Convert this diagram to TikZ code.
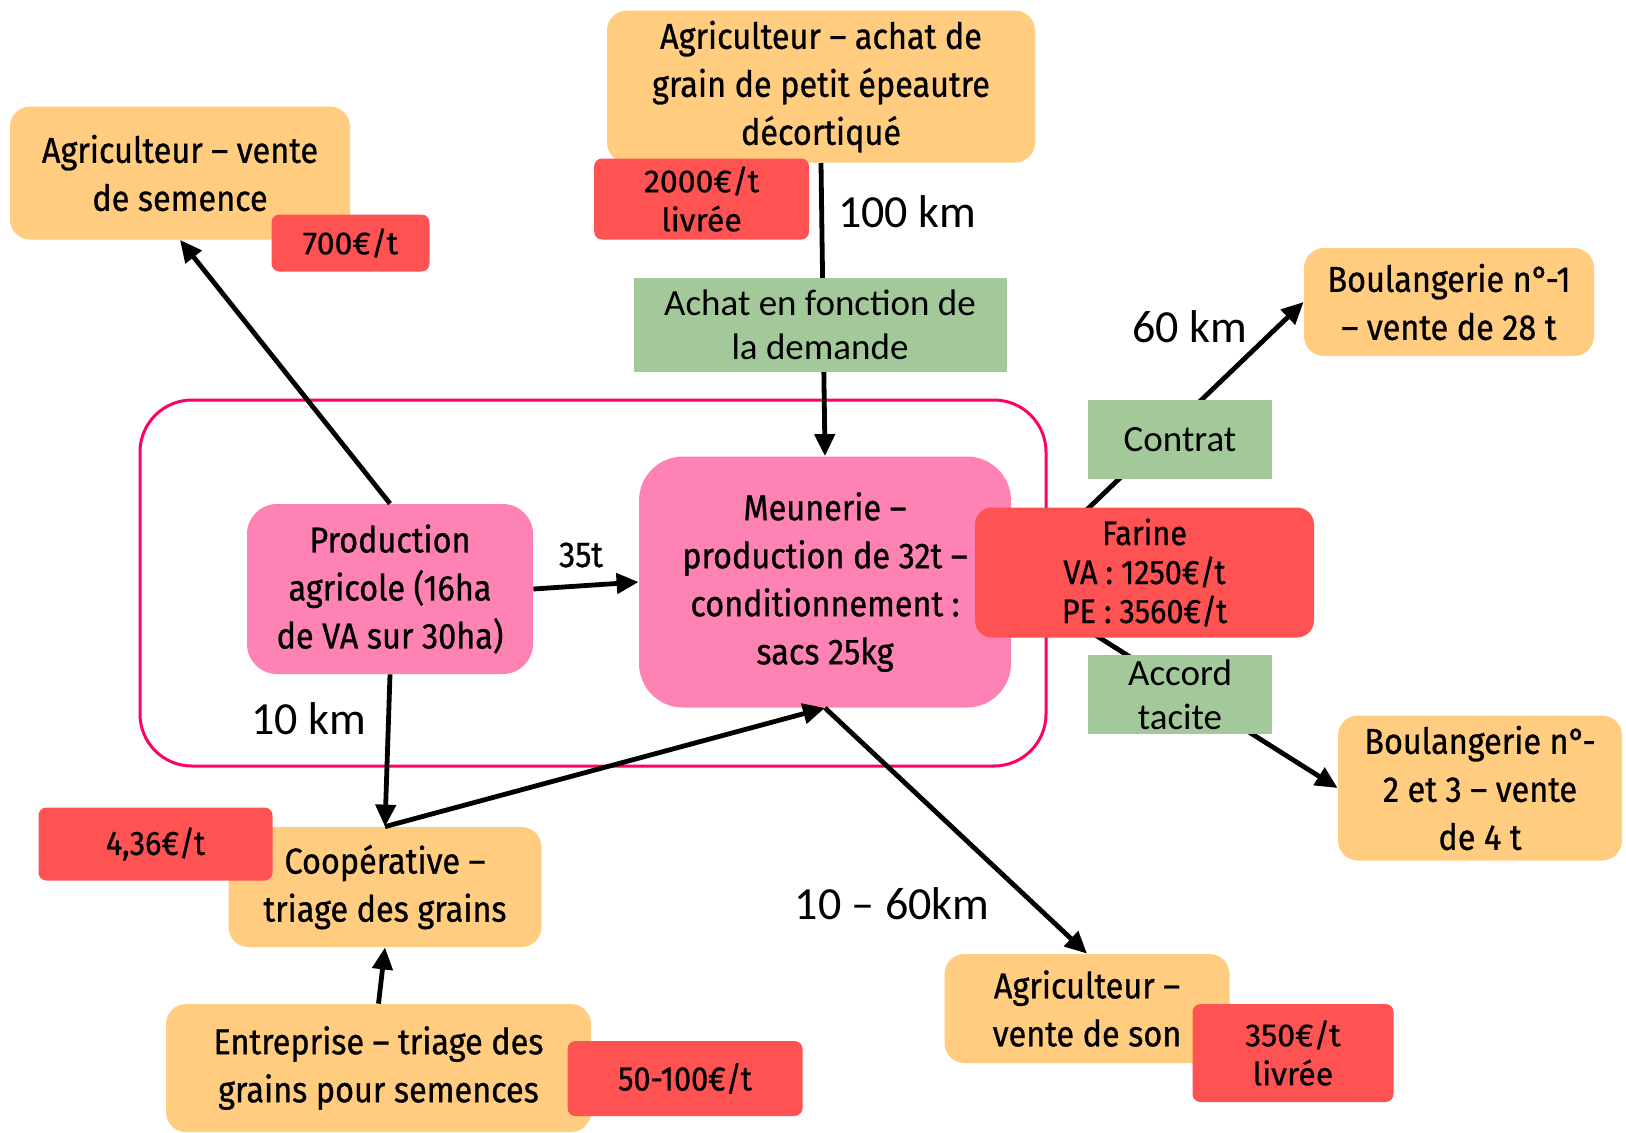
\documentclass[tikz,border=0pt]{standalone}
\usepackage{fontspec}
\setmainfont{Fira Sans}[FakeStretch=0.9, FakeBold=0.8]
\newfontfamily\pricefont{Fira Sans}[FakeBold=0.6]
\newfontfamily\calib{Carlito}
\usetikzlibrary{arrows.meta}
\definecolor{orangebg}{RGB}{255,204,128}
\definecolor{pinkbg}{RGB}{255,130,180}
\definecolor{redbg}{RGB}{255,82,82}
\definecolor{greenbg}{RGB}{163,201,154}
\definecolor{framecol}{RGB}{255,0,102}

\tikzset{
  orangebox/.style={fill=orangebg, rounded corners=10pt, align=center, inner sep=0pt, font=\fontsize{18}{24}\selectfont},
  pinkbox/.style={fill=pinkbg, align=center, inner sep=0pt, font=\fontsize{18}{24}\selectfont},
  pricebox/.style={fill=redbg, rounded corners=4pt, align=center, inner sep=0pt, font=\fontsize{17}{19.5}\selectfont},
  dealbox/.style={fill=greenbg, align=center, inner sep=0pt, font=\calib\fontsize{18.5}{21.8}\selectfont},
  kmlabel/.style={font=\calib\fontsize{23}{27}\selectfont},
  flow/.style={line width=2.4pt, -{Triangle[length=11pt,width=10pt]}},
}

\begin{document}
\begin{tikzpicture}[x=0.5pt,y=-0.5pt]
\useasboundingbox (0,0) rectangle (1626,1132);
% frame round the farm and the mill
\draw [framecol, line width=1.5pt, rounded corners=26pt] (140,400) rectangle (1046,766);

\node (semence) [orangebox, minimum width=170pt, minimum height=66.5pt] at (180,173) {Agriculteur – vente\\de semence};
\node (achat) [orangebox, minimum width=214pt, minimum height=76pt] at (821,86.6) {Agriculteur – achat de\\grain de petit épeautre\\décortiqué};
\node (prod) [pinkbox, rounded corners=15pt, minimum width=143pt, minimum height=85pt] at (390,589) {Production\\agricole (16ha\\de VA sur 30ha)};
\node (meun) [pinkbox, rounded corners=22pt, minimum width=186pt, minimum height=125.5pt] at (825,582) {Meunerie –\\production de 32t –\\conditionnement :\\sacs 25kg};
\node (boul1) [orangebox, minimum width=145pt, minimum height=54pt] at (1449,302) {Boulangerie n°-1\\– vente de 28 t};
\node (boul2) [orangebox, minimum width=142pt, minimum height=72.5pt] at (1480,788) {Boulangerie n°-\\2 et 3 – vente\\de 4 t};
\node (son) [orangebox, minimum width=142.5pt, minimum height=54.5pt] at (1087,1008.5) {Agriculteur –\\vente de son};
\node (coop) [orangebox, minimum width=156.5pt, minimum height=60pt] at (385,887) {Coopérative –\\triage des grains};
\node (tri) [orangebox, minimum width=212.5pt, minimum height=64pt] at (378.5,1068) {Entreprise – triage des\\grains pour semences};

\draw [flow] (achat.south) -- (meun.north);
\draw [flow] (prod.north) -- (semence.south);
\draw [flow] (prod.east) -- (meun.west);
\draw [flow] (prod.south) -- (coop.north);
\draw [flow] (coop.north) -- (meun.south);
\draw [flow] (meun.south) -- (son.north);
\draw [flow] (tri.north) -- (coop.south);
\draw [flow] (meun.east) -- (boul1.west);
\draw [flow] (meun.east) -- (boul2.west);

\node (demande) [dealbox, minimum width=186.5pt, minimum height=47pt] at (820,325) {Achat en fonction de\\la demande};
\node (contrat) [dealbox, minimum width=92pt, minimum height=39.5pt] at (1180,439.5) {Contrat};
\node (tacite) [dealbox, minimum width=92pt, minimum height=39.5pt] at (1180,694.6) {Accord\\tacite};

\node (p700) [pricebox, font=\pricefont\fontsize{16}{19.5}\selectfont, minimum width=79pt, minimum height=28.5pt] at (350.5,243) {700€/t};
\node (p2000) [pricebox, font=\pricefont\fontsize{16}{19.5}\selectfont, minimum width=107.5pt, minimum height=40.5pt] at (701.6,199) {2000€/t\\livrée};
\node (farine) [pricebox, rounded corners=8.5pt, minimum width=169.5pt, minimum height=65pt] at (1144.5,572.5) {Farine\\VA : 1250€/t\\PE : 3560€/t};
\node (p350) [pricebox, font=\pricefont\fontsize{16}{19.5}\selectfont, minimum width=100.5pt, minimum height=49pt] at (1293,1053) {350€/t\\livrée};
\node (p436) [pricebox, minimum width=117pt, minimum height=36.5pt] at (155.5,844) {4,36€/t};
\node (p50) [pricebox, minimum width=117.5pt, minimum height=37.5pt] at (685,1078.5) {50-100€/t};

\node (km100) [kmlabel] at (907,211.5) {100 km};
\node (km60) [kmlabel] at (1190,327) {60 km};
\node (km10) [kmlabel] at (309,719) {10 km};
\node (km1060) [kmlabel] at (892,904) {10 – 60km};
\node (t35) [font=\fontsize{18}{20}\selectfont] at (581,555) {35t};
\end{tikzpicture}
\end{document}
